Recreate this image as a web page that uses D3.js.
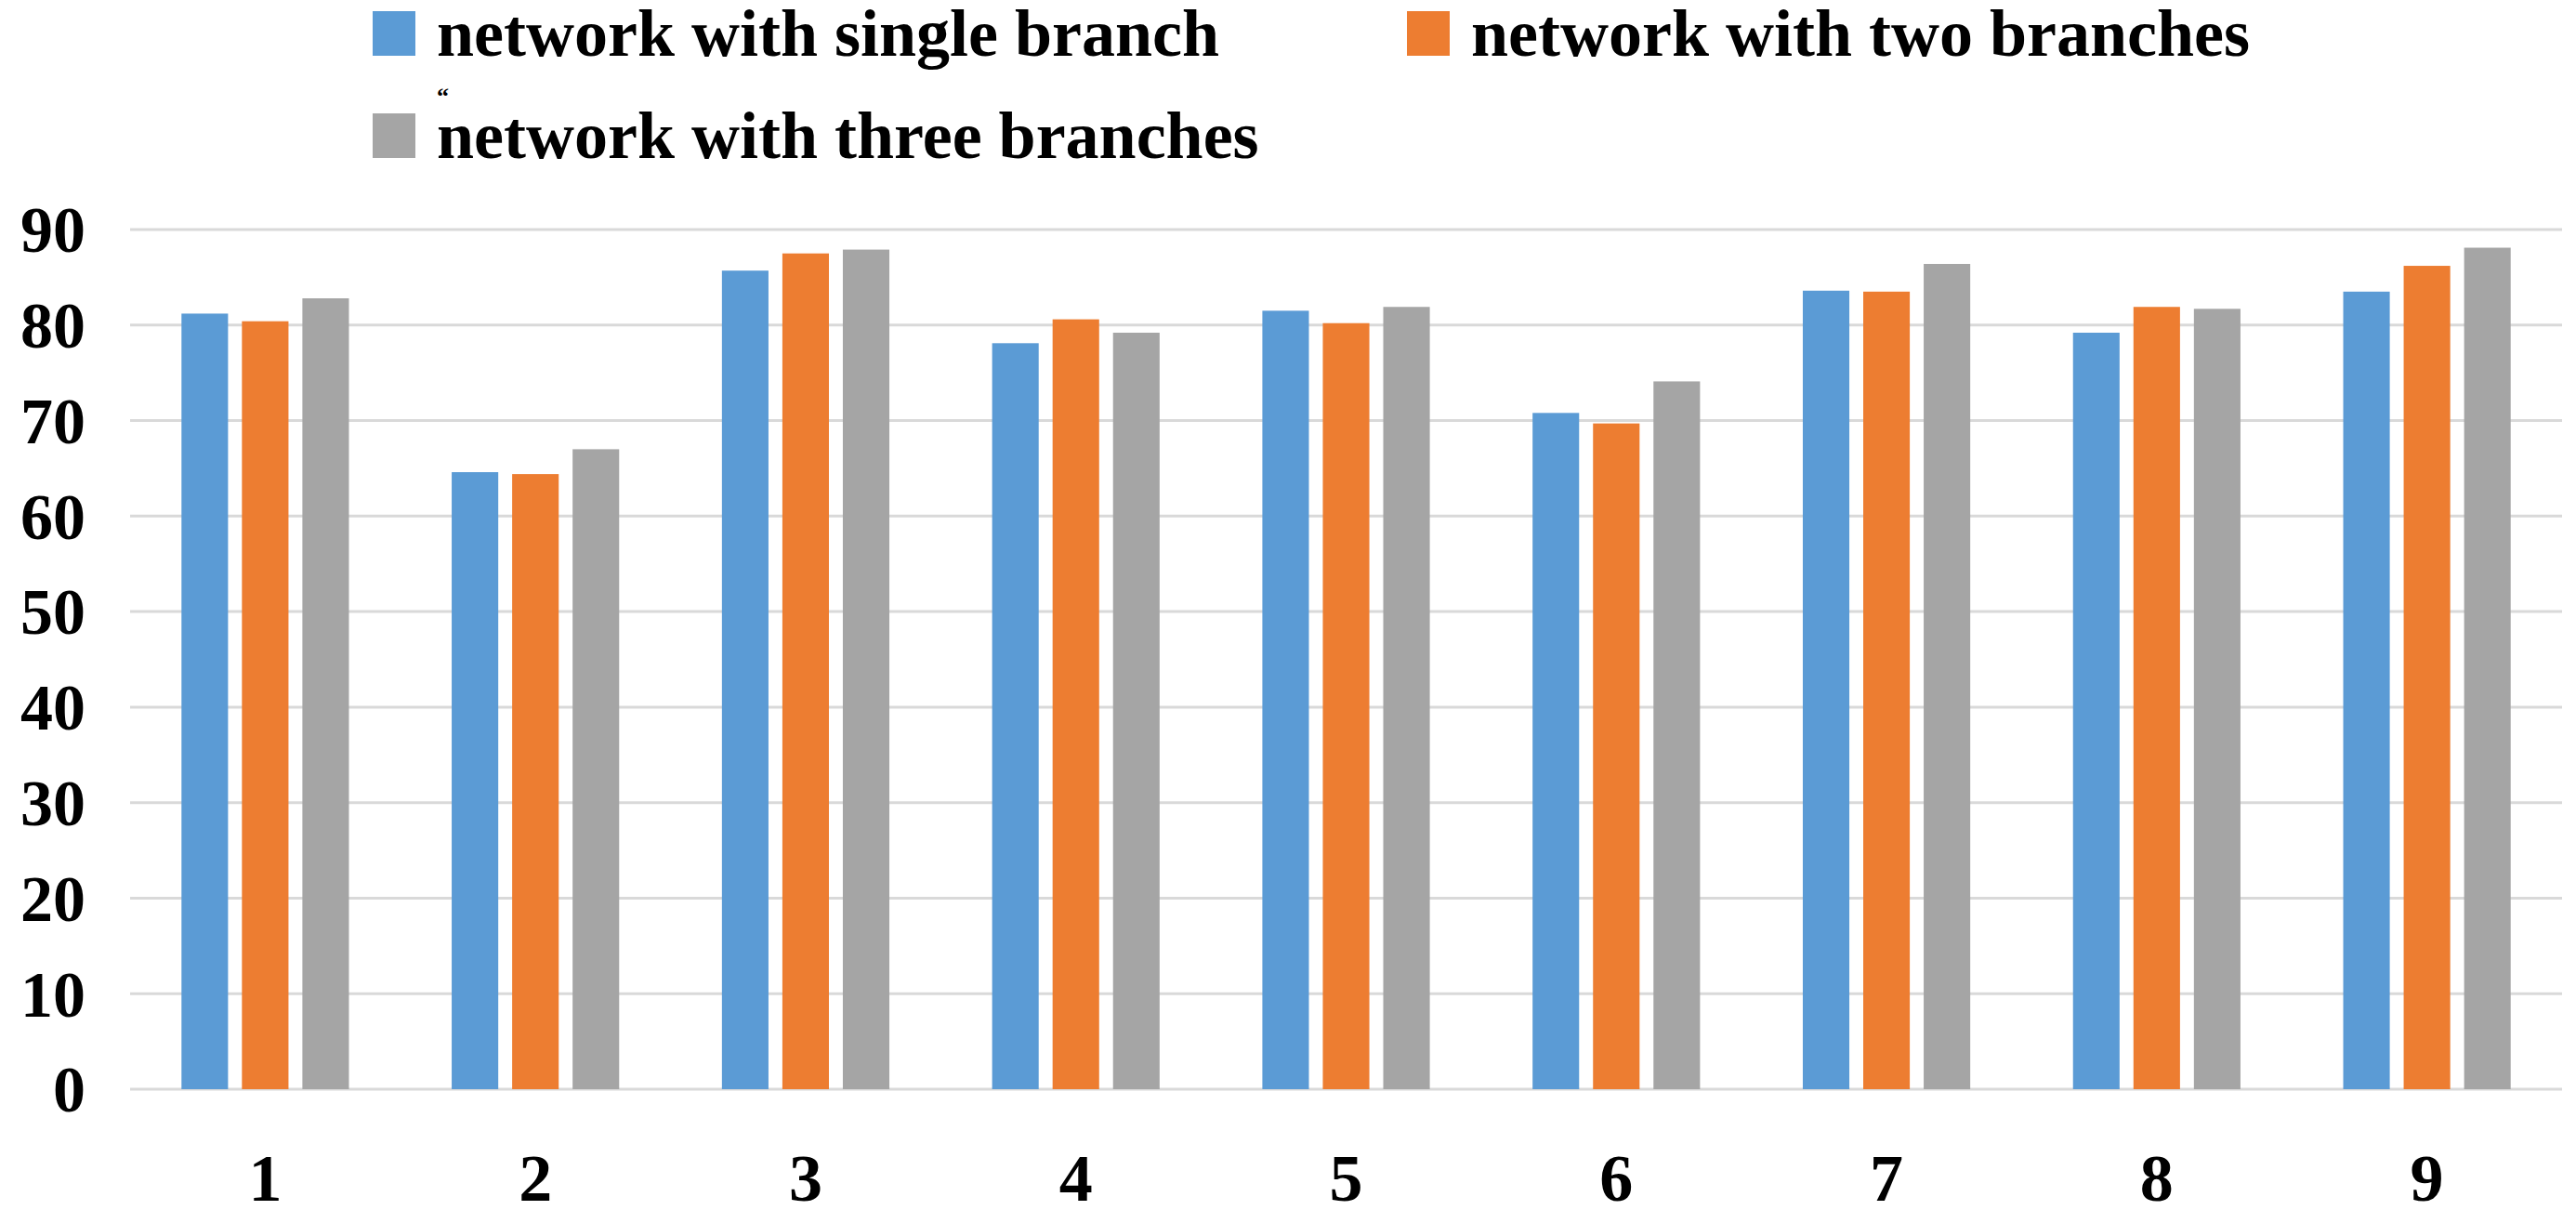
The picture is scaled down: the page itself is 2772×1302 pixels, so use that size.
<!DOCTYPE html>
<html>
<head>
<meta charset="utf-8">
<script src="https://cdn.jsdelivr.net/npm/d3@7"></script>
<style>
  html, body { margin: 0; padding: 0; background: #fff; }
  svg { display: block; }
  text { font-family: "Liberation Serif", "Times New Roman", serif; font-weight: bold; fill: #000; }
</style>
</head>
<body>
<svg id="chart" width="2772" height="1302"></svg>
<script>
const categories = ["1", "2", "3", "4", "5", "6", "7", "8", "9"];
const seriesNames = ["network with single branch", "network with two branches", "network with three branches"];
const single = [81.2, 64.6, 85.7, 78.1, 81.5, 70.8, 83.6, 79.2, 83.5];
const two    = [80.4, 64.4, 87.5, 80.6, 80.2, 69.7, 83.5, 81.9, 86.2];
const three  = [82.8, 67.0, 87.9, 79.2, 81.9, 74.1, 86.4, 81.7, 88.1];
const yTicks = [0, 10, 20, 30, 40, 50, 60, 70, 80, 90];
const colors = ["#5B9BD5", "#ED7D31", "#A5A5A5"];

const seriesValues = [single, two, three];
const svg = d3.select("#chart");

const x0 = d3.scaleBand().domain(categories).range([140, 2757]).padding(0);
const x1 = d3.scaleBand().domain(seriesNames).range([0, x0.bandwidth()])
  .paddingInner(0.23).paddingOuter(0.85);
const y = d3.scaleLinear().domain([0, 90]).range([1172, 247]);

// gridlines
const grid = svg.append("g");
grid.selectAll("line").data(yTicks).join("line")
  .attr("x1", 140).attr("x2", 2757)
  .attr("y1", d => y(d)).attr("y2", d => y(d))
  .attr("stroke", "#D9D9D9").attr("stroke-width", 3);

// y axis labels
const yAxis = d3.axisLeft(y).tickValues(yTicks).tickSize(0).tickPadding(0);
const yg = svg.append("g").attr("transform", "translate(92,0)").call(yAxis);
yg.select(".domain").remove();
yg.selectAll("text")
  .attr("font-size", 70)
  .attr("font-family", "Liberation Serif, serif")
  .attr("font-weight", "bold")
  .attr("fill", "#000")
  .attr("dy", "0.34em")
  .attr("x", 0);

// x axis labels
const xAxis = d3.axisBottom(x0).tickSize(0).tickPadding(0);
const xg = svg.append("g").attr("transform", "translate(0,1172)").call(xAxis);
xg.select(".domain").remove();
xg.selectAll("text")
  .attr("font-size", 72)
  .attr("font-family", "Liberation Serif, serif")
  .attr("font-weight", "bold")
  .attr("fill", "#000")
  .attr("dy", 0)
  .attr("y", 120);

// bars
const groups = svg.append("g").selectAll("g").data(categories).join("g")
  .attr("transform", d => `translate(${x0(d)},0)`);
groups.selectAll("rect")
  .data((c, i) => seriesNames.map((s, k) => ({ s, k, v: seriesValues[k][i] })))
  .join("rect")
  .attr("x", d => x1(d.s))
  .attr("width", x1.bandwidth())
  .attr("y", d => y(d.v))
  .attr("height", d => y(0) - y(d.v))
  .attr("fill", d => colors[d.k]);

// legend
const legendPos = [
  { x: 401, y: 12 },
  { x: 1514, y: 12 },
  { x: 401, y: 122 }
];
const lg = svg.append("g");
const items = lg.selectAll("g").data(seriesNames).join("g")
  .attr("transform", (d, i) => `translate(${legendPos[i].x},${legendPos[i].y})`);
items.append("rect").attr("width", 46).attr("height", 48)
  .attr("fill", (d, i) => colors[i]);
items.append("text").attr("x", 69).attr("y", 48)
  .attr("font-size", 72).text(d => d);

// small stray mark present in the reference
svg.append("text").attr("x", 470).attr("y", 112).attr("font-size", 26).text("\u201C");
</script>
</body>
</html>
